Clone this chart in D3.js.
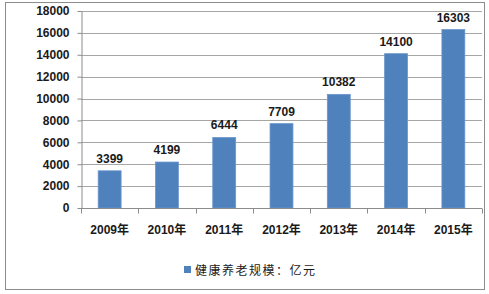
<!DOCTYPE html>
<html>
  <head>
    <meta charset="utf-8">
    <style>
      body { margin: 0; background: #fff; }
      svg { font-family: "Liberation Sans", Arial, "Noto Sans CJK SC", sans-serif; }
      .lbl { font-size: 12px; font-weight: bold; fill: #1a1a1a; }
    </style>
  </head>
  <body>
    <svg width="489" height="294"></svg>
    <script src="https://d3js.org/d3.v7.min.js"></script>
    <script>
      // data
      const years = ['2009年', '2010年', '2011年', '2012年', '2013年', '2014年', '2015年'];
      const values = [3399, 4199, 6444, 7709, 10382, 14100, 16303];
      const yTicks = [0, 2000, 4000, 6000, 8000, 10000, 12000, 14000, 16000, 18000];
      const seriesName = '健康养老规模：亿元';

      const svg = d3.select('svg');
      const plotL = 81, plotR = 482, plotT = 11, plotB = 208;

      // outer frame
      svg.append('rect')
        .attr('x', 5.5).attr('y', 2.5)
        .attr('width', 479).attr('height', 287)
        .attr('fill', 'none').attr('stroke', '#8c8c8c');

      const x = d3.scaleBand().domain(years).range([plotL, plotR]).paddingInner(0.6).paddingOuter(0.3);
      const y = d3.scaleLinear().domain([0, 18000]).range([plotB, plotT]);

      // gridlines
      svg.append('g').selectAll('line')
        .data(yTicks.filter(d => d > 0))
        .join('line')
        .attr('x1', plotL).attr('x2', plotR)
        .attr('y1', d => Math.round(y(d)) + 0.5).attr('y2', d => Math.round(y(d)) + 0.5)
        .attr('stroke', '#a6a6a6');

      // y axis
      const yAxis = svg.append('g')
        .attr('transform', `translate(${plotL + 0.5},0)`)
        .call(d3.axisLeft(y).tickValues(yTicks).tickFormat(d3.format('d'))
          .tickSize(4).tickSizeOuter(0).tickPadding(8));
      yAxis.select('.domain').attr('stroke', '#8c8c8c');
      yAxis.selectAll('.tick line').attr('stroke', '#8c8c8c');
      yAxis.selectAll('.tick text').attr('class', 'lbl');

      // bars
      svg.append('g').selectAll('rect')
        .data(values)
        .join('rect')
        .attr('x', (d, i) => x(years[i]))
        .attr('y', d => y(d))
        .attr('width', x.bandwidth())
        .attr('height', d => plotB - y(d))
        .attr('fill', '#4f81bd')
        .attr('stroke', '#6b96cc')
        .attr('stroke-width', 0.8);

      // value labels
      svg.append('g').selectAll('text')
        .data(values)
        .join('text')
        .attr('class', 'lbl')
        .attr('x', (d, i) => x(years[i]) + x.bandwidth() / 2)
        .attr('y', d => y(d) - 8)
        .attr('text-anchor', 'middle')
        .text(d => d);

      // x axis
      const xAxis = svg.append('g').attr('transform', `translate(0,${plotB + 0.5})`);
      xAxis.append('line').attr('x1', plotL).attr('x2', plotR).attr('stroke', '#8c8c8c');
      xAxis.selectAll('line.tk')
        .data(d3.range(years.length + 1))
        .join('line')
        .attr('class', 'tk')
        .attr('x1', i => Math.round(plotL + i * x.step()) + 0.5)
        .attr('x2', i => Math.round(plotL + i * x.step()) + 0.5)
        .attr('y1', 0).attr('y2', 5)
        .attr('stroke', '#8c8c8c');
      xAxis.selectAll('text')
        .data(years)
        .join('text')
        .attr('class', 'lbl')
        .attr('x', d => x(d) + x.bandwidth() / 2)
        .attr('y', 25)
        .attr('text-anchor', 'middle')
        .text(d => d);

      // legend
      const lg = svg.append('g').attr('transform', 'translate(184,270)');
      lg.append('rect').attr('x', 0).attr('y', -4).attr('width', 7).attr('height', 7).attr('fill', '#4f81bd');
      lg.append('text').attr('x', 11).attr('y', 4.5)
        .style('font-size', '12px').style('fill', '#1a1a1a').style('letter-spacing', '1.5px')
        .text(seriesName);
    </script>
  </body>
</html>
